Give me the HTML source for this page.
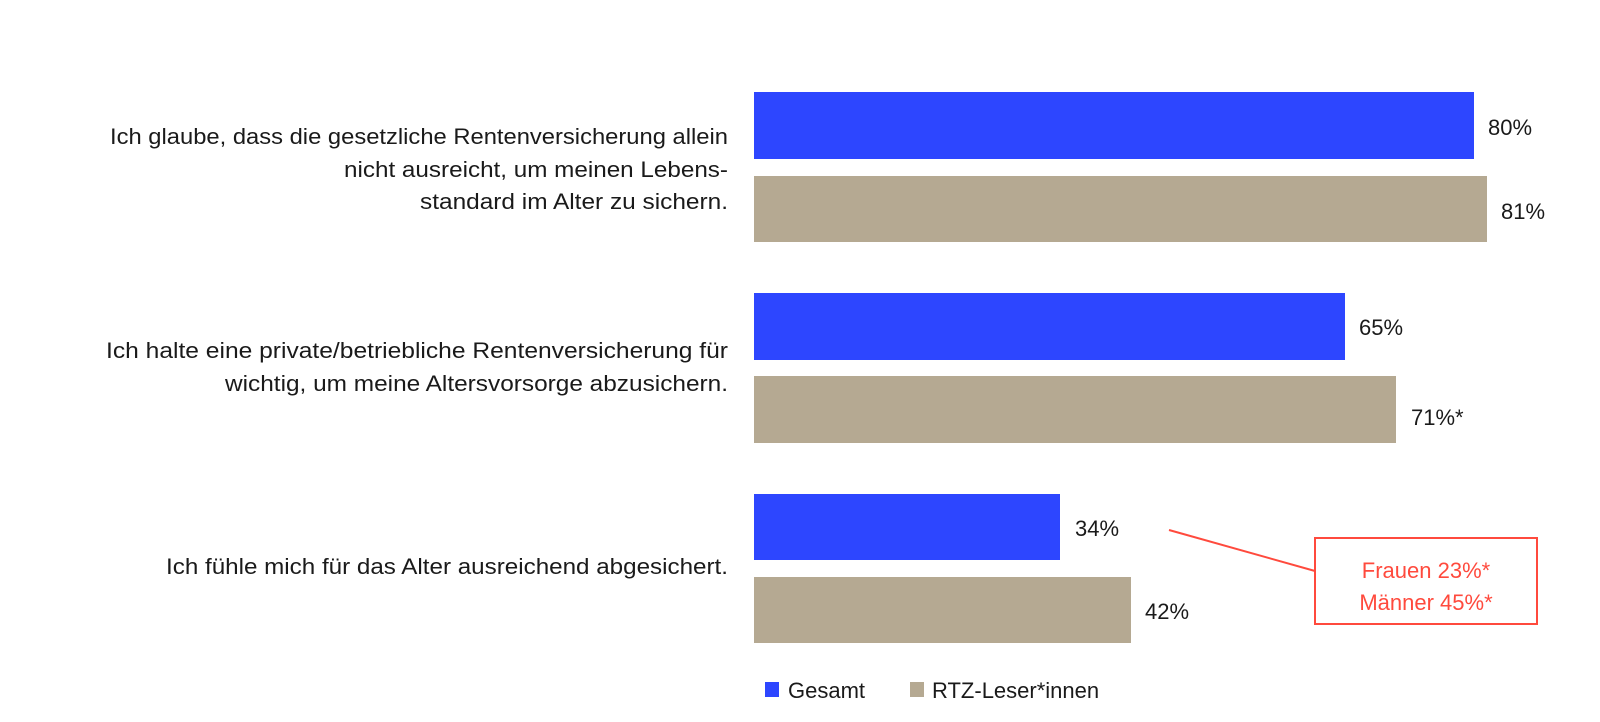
<!DOCTYPE html>
<html><head><meta charset="utf-8"><style>
html,body{margin:0;padding:0;background:#fff;}
svg{display:block;}
text{font-family:"Liberation Sans",sans-serif;font-size:22px;fill:#1a1a1a;}
</style></head><body>
<svg width="1600" height="722" viewBox="0 0 1600 722" xmlns="http://www.w3.org/2000/svg">
<rect width="1600" height="722" fill="#fff"/>
<!-- bars -->
<rect x="754" y="92" width="720" height="67" fill="#2d46ff"/>
<rect x="754" y="176" width="733" height="66" fill="#b5a992"/>
<rect x="754" y="293" width="591" height="67" fill="#2d46ff"/>
<rect x="754" y="376" width="642" height="67" fill="#b5a992"/>
<rect x="754" y="494" width="306" height="66" fill="#2d46ff"/>
<rect x="754" y="577" width="377" height="66" fill="#b5a992"/>
<!-- values -->
<text x="1488" y="135">80%</text>
<text x="1501" y="219">81%</text>
<text x="1359" y="335">65%</text>
<text x="1411" y="425">71%*</text>
<text x="1075" y="536">34%</text>
<text x="1145" y="619">42%</text>
<!-- category labels -->
<text x="110" y="144" textLength="618" lengthAdjust="spacingAndGlyphs">Ich glaube, dass die gesetzliche Rentenversicherung allein</text>
<text x="344" y="177" textLength="384" lengthAdjust="spacingAndGlyphs">nicht ausreicht, um meinen Lebens-</text>
<text x="420" y="209" textLength="308" lengthAdjust="spacingAndGlyphs">standard im Alter zu sichern.</text>
<text x="106" y="358" textLength="622" lengthAdjust="spacingAndGlyphs">Ich halte eine private/betriebliche Rentenversicherung für</text>
<text x="225" y="391" textLength="503" lengthAdjust="spacingAndGlyphs">wichtig, um meine Altersvorsorge abzusichern.</text>
<text x="166" y="574" textLength="562" lengthAdjust="spacingAndGlyphs">Ich fühle mich für das Alter ausreichend abgesichert.</text>
<!-- annotation -->
<line x1="1169" y1="530" x2="1315" y2="571" stroke="#ff4a3d" stroke-width="2"/>
<rect x="1315" y="538" width="222" height="86" fill="#fff" stroke="#ff4a3d" stroke-width="2"/>
<text x="1426" y="578" text-anchor="middle" style="fill:#ff4a3d">Frauen 23%*</text>
<text x="1426" y="610" text-anchor="middle" style="fill:#ff4a3d">Männer 45%*</text>
<!-- legend -->
<rect x="765" y="682" width="14" height="15" fill="#2d46ff"/>
<text x="788" y="698">Gesamt</text>
<rect x="910" y="682" width="14" height="15" fill="#b5a992"/>
<text x="932" y="698">RTZ-Leser*innen</text>
</svg>
</body></html>
